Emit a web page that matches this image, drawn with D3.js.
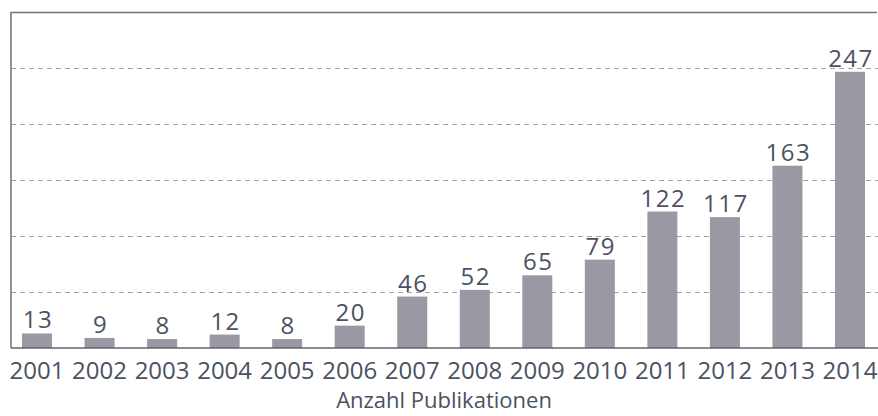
<!DOCTYPE html>
<html lang="de">
<head>
<meta charset="UTF-8">
<title>Anzahl Publikationen</title>
<style>
  body { margin: 0; background: #fff; font-family: 'Open Sans', sans-serif; }
  svg { display: block; }
  .grid line { stroke: #a3a3ab; stroke-dasharray: 5,4; stroke-width: 1; }
  .val { fill: #4b5261; font-size: 24px; }
  .year { fill: #4b5261; font-size: 24px; }
  .title { fill: #4b5261; font-size: 22px; }
</style>
</head>
<body>
<svg id="chart" width="878" height="416"></svg>
<script src="https://d3js.org/d3.v7.min.js"></script>
<script>
  // data
  const years = ["2001","2002","2003","2004","2005","2006","2007","2008","2009","2010","2011","2012","2013","2014"];
  const counts = [13, 9, 8, 12, 8, 20, 46, 52, 65, 79, 122, 117, 163, 247];
  const gridValues = [50, 100, 150, 200, 250];

  const svg = d3.select("#chart");
  const frameLeft = 11, frameTop = 12.5, baseY = 348;

  const x = d3.scaleBand()
    .domain(years)
    .range([5.75, 881.25])
    .paddingInner(0.52)
    .paddingOuter(0.26);

  const y = d3.scaleLinear()
    .domain([0, 300])
    .range([baseY, frameTop]);

  // dashed gridlines
  svg.append("g").attr("class", "grid")
    .selectAll("line")
    .data(gridValues)
    .join("line")
    .attr("x1", frameLeft).attr("x2", 878)
    .attr("y1", d => Math.round(y(d)) + 0.5)
    .attr("y2", d => Math.round(y(d)) + 0.5);

  // bars
  svg.append("g")
    .selectAll("rect")
    .data(counts)
    .join("rect")
    .attr("x", (d, i) => x(years[i]))
    .attr("width", x.bandwidth())
    .attr("y", d => y(d))
    .attr("height", d => baseY - y(d))
    .attr("fill", "#9a99a3");

  // frame: left line, top line and the base axis
  svg.append("path")
    .attr("d", `M${frameLeft},${baseY} V${frameTop} H877`)
    .attr("fill", "none")
    .attr("stroke", "#70737e")
    .attr("stroke-width", 1.5);
  svg.append("line")
    .attr("x1", frameLeft).attr("x2", 878)
    .attr("y1", baseY).attr("y2", baseY)
    .attr("stroke", "#5f6573")
    .attr("stroke-width", 1.5);

  // value labels
  svg.append("g")
    .selectAll("text")
    .data(counts)
    .join("text")
    .attr("class", "val")
    .attr("x", (d, i) => x(years[i]) + x.bandwidth() / 2 + 1)
    .attr("y", d => y(d) - 5)
    .attr("text-anchor", "middle")
    .attr("letter-spacing", "1.5px")
    .text(d => d);

  // year labels
  svg.append("g")
    .selectAll("text")
    .data(years)
    .join("text")
    .attr("class", "year")
    .attr("x", d => x(d) + x.bandwidth() / 2)
    .attr("y", 379)
    .attr("text-anchor", "middle")
    .text(d => d);

  svg.append("text")
    .attr("class", "title")
    .attr("x", 444)
    .attr("y", 408)
    .attr("text-anchor", "middle")
    .text("Anzahl Publikationen");
</script>
</body>
</html>
